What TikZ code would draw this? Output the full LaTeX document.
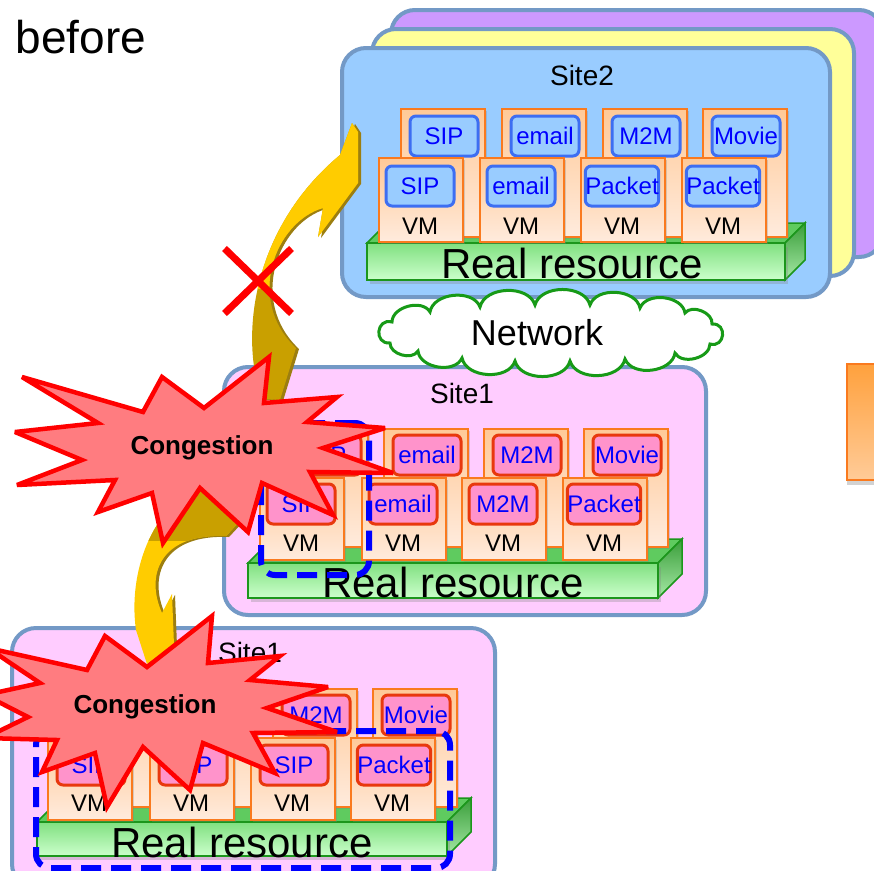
\documentclass[tikz,border=0pt]{standalone}
\usepackage{fontspec}
\setmainfont{Liberation Sans}
\usetikzlibrary{shapes.misc,shadows}

\definecolor{cardedge}{HTML}{7399C6}
\definecolor{siteblue}{HTML}{99CCFF}
\definecolor{siteyellow}{HTML}{FFFF99}
\definecolor{sitepurple}{HTML}{CC99FF}
\definecolor{sitepink}{HTML}{FFCCFF}
\definecolor{vmedge}{HTML}{FA7A1E}
\definecolor{vmtop}{HTML}{FFC997}
\definecolor{vmbottom}{HTML}{FFEBDD}
\definecolor{appedgeblue}{HTML}{3D6EF2}
\definecolor{appedgered}{HTML}{E8380D}
\definecolor{apppink}{HTML}{FF93CB}
\definecolor{slabedge}{HTML}{1C961C}
\definecolor{slabtop}{HTML}{5FCB5F}
\definecolor{slabfront}{HTML}{80E080}
\definecolor{slablight}{HTML}{CCFFCC}
\definecolor{slabdark}{HTML}{3A9E3A}
\definecolor{netgreen}{HTML}{179A17}
\definecolor{arrowgold}{HTML}{FFCC00}
\definecolor{arrowdark}{HTML}{C9A000}
\definecolor{arrowshade}{HTML}{9C7E10}
\definecolor{burstfill}{HTML}{FF7C80}
\definecolor{paneltop}{HTML}{FFA13D}
\definecolor{panelbottom}{HTML}{FFCB98}

% green base under the VMs: front face, top face and side face
\newcommand{\resslab}[5]{%
  \filldraw[slab top] (#1,#2) -- (#1+#5,#2-#5) -- (#3+#5,#2-#5) -- (#3,#2) -- cycle;
  \filldraw[slab side] (#3,#2) -- (#3+#5,#2-#5) -- (#3+#5,#4-#5) -- (#3,#4) -- cycle;
  \draw[slab front] (#1,#2) rectangle (#3,#4);
}

% curved block arrows
\newcommand{\uparrowpath}{(262,399) .. controls (240,340) and (250,230) .. (340,155)
  -- (352,123) -- (358,132) -- (358,183) -- (318,237) -- (323,208)
  .. controls (275,222) and (245,300) .. (296,348) -- (280,400) -- cycle}
\newcommand{\downarrowpath}{(205,485) -- (240,521) -- (226,536)
  .. controls (160,533) and (145,575) .. (162,613) -- (172,594) -- (174,645)
  -- (147,664) -- (136,630) .. controls (128,575) and (150,505) .. (205,485) -- cycle}

\begin{document}
\begin{tikzpicture}[
  x=1pt,
  y=-1pt,
  every node/.style={font=\fontsize{24pt}{26pt}\selectfont},
  card/.style={draw=cardedge, line width=4pt, rounded corners=24pt,
    anchor=north west, inner sep=0pt},
  site label/.style={font=\fontsize{28pt}{30pt}\selectfont},
  real label/.style={anchor=base, font=\fontsize{42pt}{44pt}\selectfont},
  vm/.style={draw=vmedge, line width=1.6pt, top color=vmtop, bottom color=vmbottom,
    anchor=north west, inner sep=0pt, minimum width=84pt, minimum height=#1,
    drop shadow={shadow xshift=2pt, shadow yshift=-2pt, opacity=.3}},
  vm/.default=82pt,
  app/.style={line width=3pt, rounded corners=6pt, minimum width=68pt,
    minimum height=40pt, inner sep=0pt, text=blue},
  app blue/.style={app, draw=appedgeblue, fill=siteblue},
  app pink/.style={app, draw=appedgered, fill=apppink},
  slab top/.style={draw=slabedge, line width=1.5pt, fill=slabtop},
  slab side/.style={draw=slabedge, line width=1.5pt, top color=slabdark, bottom color=slabfront!70},
  slab front/.style={draw=slabedge, line width=1.5pt, top color=slabfront, bottom color=slablight,
    drop shadow={shadow xshift=3pt, shadow yshift=-4pt, opacity=.3}},
  group/.style={draw=blue, line width=6pt, dash pattern=on 20pt off 10pt,
    rounded corners=14pt, anchor=north west, inner sep=0pt},
  netcloud/.style={draw=netgreen, line width=3pt, fill=white},
  puff/.style={bend left=75},
  end puff/.style={bend left=100, looseness=2},
  burst/.style={draw=red, line width=4.5pt, fill=burstfill, line join=miter, miter limit=4},
  burst label/.style={font=\fontsize{26pt}{28pt}\selectfont\bfseries},
]
\useasboundingbox (0,0) rectangle (874,870);
\fill[white] (0,0) rectangle (874,870);

\node[anchor=base west, font=\fontsize{46pt}{48pt}\selectfont] (title) at (12,53) {before};

% ---- Site2 with the stacked sites behind it
\node[card, fill=sitepurple, minimum width=492pt, minimum height=247pt] (backcard) at (389,8) {};
\node[card, fill=siteyellow, minimum width=482pt, minimum height=247pt] (midcard) at (370,27) {};
\node[card, fill=siteblue, minimum width=488pt, minimum height=249pt] (site2) at (340,46) {};
\node[site label] (site2name) at (582,75) {Site2};
\resslab{367}{243}{785}{280}{20}
\foreach \x/\app [count=\i] in {400/SIP,501/email,602/M2M,702/Movie} {
  \node[vm=128pt] (tb\i) at (\x,108) {};
  \node[app blue] (tba\i) at (\x+44,136) {\app};
}
\foreach \x/\app [count=\i] in {378/SIP,479/email,580/Packet,681/Packet} {
  \node[vm=84pt] (tf\i) at (\x,157) {};
  \node[app blue] (tfa\i) at (\x+42,186) {\app};
  \node (tfv\i) at (\x+42,226) {VM};
}
\node[real label] (real2) at (572,278) {Real resource};

% ---- Site1 (middle)
\node[card, fill=sitepink, minimum width=482pt, minimum height=248pt] (site1) at (222,365) {};
\node[site label] (site1name) at (462,393) {Site1};
\resslab{248}{563}{658}{598}{24}
\foreach \x/\app [count=\i] in {283/SIP,383/email,483/M2M,583/Movie} {
  \node[vm=118pt] (mb\i) at (\x,428) {};
  \node[app pink] (mba\i) at (\x+44,455) {\app};
}
\foreach \x/\app [count=\i] in {259/SIP,361/email,461/M2M,562/Packet} {
  \node[vm] (mf\i) at (\x,477) {};
  \node[app pink] (mfa\i) at (\x+42,504) {\app};
  \node (mfv\i) at (\x+42,543) {VM};
}
\node[real label] (real1) at (453,597) {Real resource};
\node[group, minimum width=108pt, minimum height=152pt] (movedvm) at (258,420) {};

% network between the sites
\draw[netcloud] (392,322) to[puff] (430,312) to[puff] (480,307) to[puff] (535,305)
  to[puff] (590,305) to[puff] (640,308) to[puff] (685,313) to[puff] (712,324)
  to[end puff] (710,344) to[puff] (675,353) to[puff] (625,359) to[puff] (570,361)
  to[puff] (515,361) to[puff] (462,358) to[puff] (418,351) to[puff] (390,343)
  to[end puff] (392,322) -- cycle;
\node[font=\fontsize{36pt}{38pt}\selectfont] (net) at (537,333) {Network};

% ---- Site1 (bottom)
\node[card, fill=sitepink, minimum width=483pt, minimum height=260pt] (site1b) at (10,626) {};
\node[site label] (site1bname) at (250,652) {Site1};
\resslab{37}{822}{447}{856}{24}
\foreach \x/\app [count=\i] in {72/,172/,272/M2M,372/Movie} {
  \node[vm=118pt] (bb\i) at (\x,688) {};
  \node[app pink] (bba\i) at (\x+44,715) {\app};
}
\foreach \x/\app [count=\i] in {47/SIP,149/SIP,250/SIP,350/Packet} {
  \node[vm] (bf\i) at (\x,737) {};
  \node[app pink] (bfa\i) at (\x+44,765) {\app};
  \node (bfv\i) at (\x+42,803) {VM};
}
\node[real label] (real1b) at (242,857) {Real resource};
\node[group, minimum width=414pt, minimum height=137pt] (movedall) at (33,728) {};

% next panel, cut at the right edge
\node[draw=vmedge, line width=2pt, top color=paneltop, bottom color=panelbottom,
  anchor=north west, inner sep=0pt, minimum width=40pt, minimum height=116pt,
  drop shadow={shadow xshift=0pt, shadow yshift=-5pt, opacity=.35}] (nextpanel) at (846,363) {};

% ---- migration arrows
\fill[arrowshade] [shift={(3,1)}] \uparrowpath;
\fill[arrowdark] \uparrowpath;
\begin{scope}
  \clip (0,0) rectangle (874,288);
  \fill[arrowgold] \uparrowpath;
\end{scope}
\fill[arrowshade] [shift={(3,1)}] \downarrowpath;
\fill[arrowgold] \downarrowpath;
\begin{scope}
  \clip (0,0) rectangle (874,540);
  \fill[arrowdark] \downarrowpath;
\end{scope}

% ---- congestion bursts
\draw[burst] (22,377) -- (143,412) -- (162,377) -- (204,408) -- (269,357) -- (264,403)
  -- (337,397) -- (307,422) -- (385,428) -- (323,448) -- (393,473) -- (310,472)
  -- (333,515) -- (262,483) -- (248,532) -- (200,488) -- (163,543) -- (152,493)
  -- (98,512) -- (115,480) -- (17,485) -- (82,460) -- (15,432) -- (98,423) -- cycle;
\node[burst label] (cong1) at (202,448) {Congestion};

\draw[burst] (-12,648) -- (87,670) -- (105,636) -- (147,667) -- (212,616) -- (208,663)
  -- (280,656) -- (250,680) -- (328,687) -- (267,708) -- (337,732) -- (253,733)
  -- (275,773) -- (203,743) -- (190,790) -- (143,747) -- (107,807) -- (95,753)
  -- (42,772) -- (57,740) -- (-15,738) -- (28,717) -- (-15,695) -- (40,683) -- cycle;
\node[burst label] (cong2) at (145,707) {Congestion};

% blocked path
\node[cross out, draw=red, line width=7pt, minimum width=60pt, minimum height=58pt,
  inner sep=0pt] (blocked) at (258,281) {};
\end{tikzpicture}
\end{document}
